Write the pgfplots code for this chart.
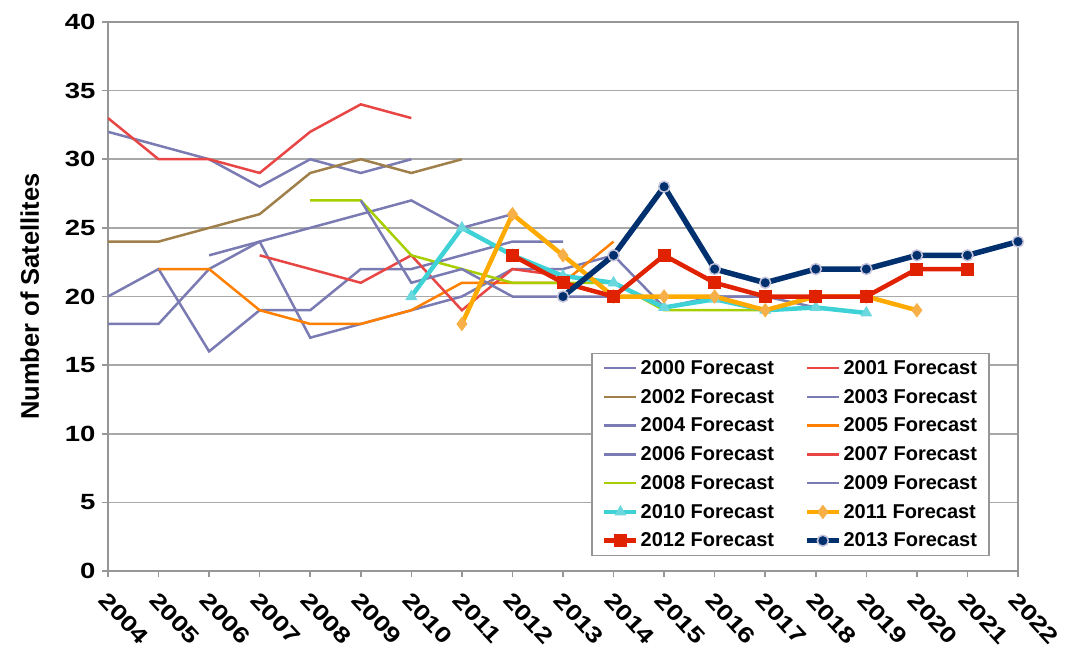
\documentclass[border=0pt]{standalone}
\usepackage{fontspec}
\setmainfont{Liberation Sans}
\newfontfamily\tickfont[FakeStretch=1.25]{Liberation Sans}
\usepackage{pgfplots}
\pgfplotsset{compat=1.18}
\definecolor{cpurple}{HTML}{7B7BB3}
\definecolor{cred}{HTML}{E84545}
\definecolor{cbrown}{HTML}{A0804A}
\definecolor{corange}{HTML}{FF8000}
\definecolor{cgreen}{HTML}{A6CE00}
\definecolor{ccyan}{HTML}{3ED2D6}
\definecolor{ccyanm}{HTML}{6AD8DC}
\definecolor{cgold}{HTML}{FFAA00}
\definecolor{cgoldm}{HTML}{F7B048}
\definecolor{cred2}{HTML}{E02200}
\definecolor{cnavy}{HTML}{00306E}
\definecolor{clav}{HTML}{C8C4DC}
\definecolor{cgrid}{HTML}{A8A8A8}
\definecolor{caxis}{HTML}{969696}
\begin{document}
\begin{tikzpicture}
\begin{axis}[
  name=ax, at={(0,0)}, anchor=south west,
  scale only axis, width=910pt, height=549pt,
  xmin=2004, xmax=2022, ymin=0, ymax=40,
  xtick={2004,2005,...,2022}, ytick={0,5,...,40},
  /pgf/number format/assume math mode=true,
  /pgf/number format/1000 sep={},
  ticklabel style={font=\tickfont\bfseries\fontsize{22}{24}\selectfont},
  yticklabel style={xshift=-3pt},
  xticklabel style={xshift=1pt, yshift=-12pt, rotate=-47, anchor=north west, inner sep=1pt},
  tick align=outside, major tick length=6pt,
  xtick pos=left, ytick pos=left,
  tick style={caxis, line width=1.5pt},
  axis line style={caxis, line width=2pt},
  ymajorgrids, major grid style={cgrid, line width=1.5pt},
  ylabel={Number of Satellites},
  ylabel style={font=\bfseries\fontsize{25.5}{27}\selectfont, at={(axis description cs:-0.086,0.5)}, anchor=center},
  legend columns=2,
  legend cell align=left,
  legend style={at={(rel axis cs:0.969,0.027)}, anchor=south east, draw=caxis, line width=1.5pt,
    font=\bfseries\fontsize{20}{22}\selectfont, inner xsep=10pt, inner ysep=5pt, row sep=9.3pt,
    /tikz/every even column/.append style={column sep=28pt}},
  legend image code/.code={\draw[mark repeat=2, mark phase=2, #1] plot coordinates {(0pt,0pt) (16pt,0pt) (32pt,0pt)};},
]
% 2000
\addplot[cpurple, line width=2.5pt] coordinates {(2004,32)(2005,31)(2006,30)(2007,28)(2008,30)(2009,29)(2010,30)};
\addlegendentry{2000 Forecast}
% 2001
\addplot[cred, line width=2.5pt] coordinates {(2004,33)(2005,30)(2006,30)(2007,29)(2008,32)(2009,34)(2010,33)};
\addlegendentry{2001 Forecast}
% 2002
\addplot[cbrown, line width=2.5pt] coordinates {(2004,24)(2005,24)(2006,25)(2007,26)(2008,29)(2009,30)(2010,29)(2011,30)};
\addlegendentry{2002 Forecast}
% 2003
\addplot[cpurple, line width=2.5pt] coordinates {(2004,20)(2005,22)(2006,16)(2007,19)(2008,19)(2009,22)(2010,22)(2011,23)(2012,24)(2013,24)};
\addlegendentry{2003 Forecast}
% 2004
\addplot[cpurple, line width=2.5pt] coordinates {(2004,18)(2005,18)(2006,22)(2007,24)(2008,17)(2009,18)(2010,19)(2011,20)(2012,22)(2013,22)(2014,23)(2015,19.2)(2016,20)(2017,20)};
\addlegendentry{2004 Forecast}
% 2005
\addplot[corange, line width=2.5pt] coordinates {(2005,22)(2006,22)(2007,19)(2008,18)(2009,18)(2010,19)(2011,21)(2012,21)(2013,21)(2014,24)};
\addlegendentry{2005 Forecast}
% 2006
\addplot[cpurple, line width=2.5pt] coordinates {(2006,23)(2007,24)(2008,25)(2009,26)(2010,27)(2011,25)(2012,26)};
\addlegendentry{2006 Forecast}
% 2007
\addplot[cred, line width=2.5pt] coordinates {(2007,23)(2008,22)(2009,21)(2010,23)(2011,19)(2012,22)(2013,21.5)(2014,21)(2015,19.3)};
\addlegendentry{2007 Forecast}
% 2008
\addplot[cgreen, line width=2.5pt] coordinates {(2008,27)(2009,27)(2010,23)(2011,22)(2012,21)(2013,21)(2014,21)(2015,19)(2016,19)(2017,19)};
\addlegendentry{2008 Forecast}
% 2009
\addplot[cpurple, line width=2.5pt] coordinates {(2009,27)(2010,21)(2011,22)(2012,20)(2013,20)(2014,20)(2015,20)(2016,20)(2017,20)(2018,19.2)};
\addlegendentry{2009 Forecast}
% 2010
\addplot[ccyan, line width=4.5pt, mark=triangle*, mark size=6pt, mark options={solid, line width=1pt, fill=ccyanm, draw=ccyanm}] coordinates {(2010,20)(2011,25)(2012,23)(2013,21.5)(2014,21)(2015,19.2)(2016,19.8)(2017,19)(2018,19.2)(2019,18.8)};
\addlegendentry{2010 Forecast}
% 2011
\addplot[cgold, line width=4.5pt, mark=diamond*, mark size=6.5pt, mark options={solid, line width=1pt, fill=cgoldm, draw=cgoldm}] coordinates {(2011,18)(2012,26)(2013,23)(2014,20)(2015,20)(2016,20)(2017,19)(2018,20)(2019,20)(2020,19)};
\addlegendentry{2011 Forecast}
% 2012
\addplot[cred2, line width=4.5pt, mark=square*, mark size=6pt, mark options={solid, line width=1pt, fill=cred2, draw=cred2}] coordinates {(2012,23)(2013,21)(2014,20)(2015,23)(2016,21)(2017,20)(2018,20)(2019,20)(2020,22)(2021,22)};
\addlegendentry{2012 Forecast}
% 2013
\addplot[cnavy, line width=5.5pt, mark=*, mark size=5.5pt, mark options={solid, line width=1.5pt, fill=cnavy, draw=clav}] coordinates {(2013,20)(2014,23)(2015,28)(2016,22)(2017,21)(2018,22)(2019,22)(2020,23)(2021,23)(2022,24)};
\addlegendentry{2013 Forecast}
\end{axis}
\pgfresetboundingbox
\path[use as bounding box] ([xshift=-108pt,yshift=-83pt]ax.south west) rectangle ([xshift=957pt,yshift=571pt]ax.south west);
\end{tikzpicture}
\end{document}
